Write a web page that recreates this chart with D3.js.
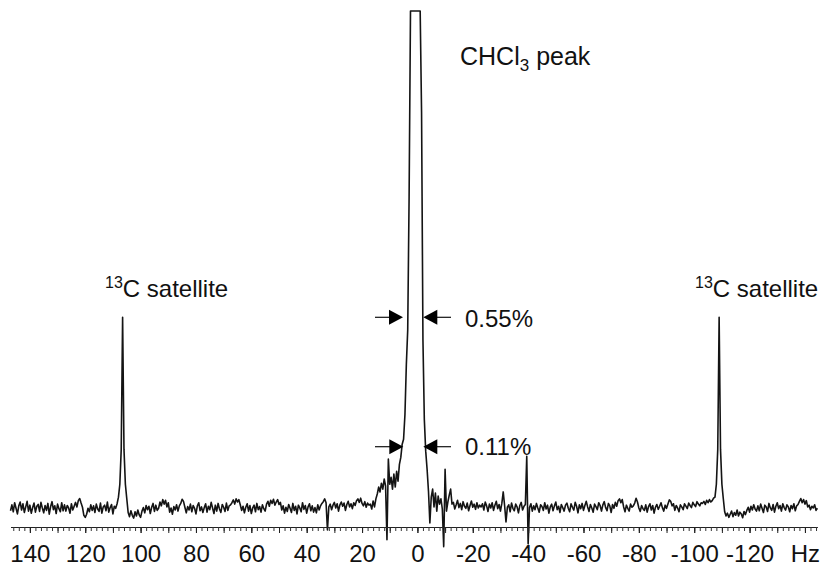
<!DOCTYPE html>
<html><head><meta charset="utf-8">
<script src="https://cdn.jsdelivr.net/npm/d3@7"></script>
<style>
html,body{margin:0;padding:0;background:#fff;}
svg{display:block;font-family:Arial,"Liberation Sans",Helvetica,sans-serif;}
</style></head>
<body>
<svg id="chart" width="822" height="567"></svg>
<script>
// Spectrum sampled every 0.5 Hz from 147 Hz down to -144.5 Hz.
// Intensity in thousandths of a percent of the CHCl3 peak height (550 = 0.55 %).
const hzStart = 147;
const hzStep = 0.5;
const intensity = [
  -5, 12, -8, 18, 2, -14, 9, 20, -3, 15, -10, 6, 22, -6, 11, -12, 4, 17, -9, 8,
  13, -7, 19, 3, -11, 10, -4, 16, -15, 7, 21, -2, 9, -13, 14, 1, -8, 18, -5, 12,
  -6, 10, 3, -12, 15, -3, 8, 19, 6, 24, 30, 17, 5, -18, -24, -15, 2, -8, 12, -4,
  9, -10, 14, 0, -7, 17, -12, 6, 11, -5, 20, -9, 4, 13, -14, 8, 2, 15, 34, 71,
  171, 550, 171, 71, 30, -10, -22, -5, -18, -26, -8, -20, -3, -17, -24, -6, 4, -11, 10, -2,
  8, -13, 5, 16, -7, 11, -4, 2, 20, 9, 27, 14, 25, 6, 18, -9, 3, -15, 7, -3,
  12, -6, 9, 16, 28, 22, 5, -11, 7, -3, 14, -8, 10, 2, -14, 9, 18, -5, 6, -10,
  4, 15, -9, 8, -2, 19, 3, -13, 11, -6, 16, 0, -10, 13, 5, -7, 17, -4, 9, 12,
  18, 26, 14, 29, 20, 27, 12, -4, 8, -11, 5, 15, -6, 10, -13, 3, 11, -8, 16, -2,
  7, -9, 12, 1, -6, 14, 22, 8, 25, 16, 28, 11, 20, 27, 13, 19, -3, 9, -12, 5,
  -7, 13, 2, -10, 16, -4, 8, -14, 11, 3, -8, 18, -1, 10, -12, 6, 15, -5, 9, -9,
  4, -11, 12, -3, 9, 16, 21, 29, 18, -60, 6, 14, -2, 11, 19, 3, 15, -6, 12, 20,
  8, 17, -4, 13, 22, 6, 15, 1, 18, 10, 24, 29, 19, 31, 16, 9, 21, 5, 17, 11,
  14, 0, 23, 6, 29, 43, 63, 49, 74, 57, 86, 66, -88, 143, 71, 91, 57, 100, 63, 108,
  80, 128, 148, 186, 200, 271, 414, 514, 896, 3000, 20000, 60000, 95000, 100000, 90000, 50000, 15000, 1139, 485, 257,
  166, 114, 51, -40, 34, 57, 6, 46, -6, 37, 14, 29, 0, -108, 114, -6, 20, 40, 57, 14,
  19, 0, 12, 25, 4, 16, -2, 21, 8, 2, 17, -5, 10, 23, 5, 14, -1, 18, 3, 11,
  6, 15, -3, 20, 9, -7, 14, 3, 18, -4, 11, 22, 1, 13, -6, 16, 49, 10, -37, 5,
  12, -8, 17, 2, -5, 14, 6, -11, 10, 19, -3, 8, 13, 151, -100, 4, 15, -6, 9, -2,
  16, 3, -9, 12, 7, -4, 18, 0, 11, -12, 6, 14, -5, 9, 20, -2, 8, -10, 13, 4,
  -6, 11, 17, 2, -8, 15, 5, -3, 19, 8, -11, 12, 1, 16, -4, 10, 22, 6, -7, 13,
  3, -9, 14, 7, -2, 18, 10, -6, 12, 21, 4, -5, 16, 9, -10, 13, 2, 19, 8, 24,
  29, 18, 27, 6, -8, 11, 2, -6, 14, 5, 9, 17, 31, 20, 3, -7, 10, 1, -4, 12,
  -9, 7, 15, -3, 10, -12, 5, 13, -1, 8, 18, 4, -6, 11, 2, 14, 26, 22, 9, 15,
  -4, 10, 3, -8, 12, 6, -2, 15, 8, 1, 17, 10, 4, 19, 12, 7, 21, 14, 9, 18,
  16, 22, 13, 25, 18, 27, 20, 24, 31, 34, 71, 171, 550, 171, 71, 30, -8, -20, -12, -24,
  -15, -6, -22, -10, -18, -3, -20, -9, -14, -25, -7, -16, -4, 5, -9, 8, -3, 12, 0, -6,
  9, -5, 14, 2, -10, 11, 6, -7, 16, 3, -4, 13, -9, 8, 18, 1, 10, -6, 15, 4,
  -3, 12, 6, -8, 10, 1, 15, -5, 9, 13, 22, 30, 18, 27, 14, 24, 6, 11, -2, 8,
  3, 12, -4, 2
];

const majorTicks = [140, 120, 100, 80, 60, 40, 20, 0, -20, -40, -60, -80, -100, -120, -140];
const tickLabels = ["140", "120", "100", "80", "60", "40", "20", "0", "-20", "-40", "-60", "-80", "-100", "-120", "Hz"];

const data = intensity.map((v, i) => ({hz: hzStart - i * hzStep, v}));

const svg = d3.select("#chart");
const axisY = 527;

const x = d3.scaleLinear().domain([147, -144.5]).range([10.5, 817.4]);
// 0 -> baseline, 550 (0.55 %) -> satellite top; peak clipped at the top of the frame
const y0 = d3.scaleLinear().domain([0, 550]).range([509, 317.3]);
const y = d3.scaleLinear()
  .domain([y0.invert(620), y0.invert(11)])
  .range([620, 11])
  .clamp(true);

// spectrum
svg.append("path")
  .datum(data)
  .attr("fill", "none")
  .attr("stroke", "#141414")
  .attr("stroke-width", 1.6)
  .attr("stroke-linejoin", "round")
  .attr("d", d3.line().x(d => x(d.hz)).y(d => y(d.v)));

// axis: minor ticks every 2 Hz, medium every 10 Hz, labels every 20 Hz
const minorVals = d3.range(146, -145, -2);
const medVals = d3.range(140, -145, -10);
svg.append("g").attr("transform", `translate(0,${axisY})`)
  .call(d3.axisBottom(x).tickValues(minorVals).tickSizeInner(4).tickSizeOuter(0).tickFormat(""))
  .call(g => g.select(".domain").attr("stroke", "#222"))
  .call(g => g.selectAll(".tick line").attr("stroke", "#333"));
svg.append("g").attr("transform", `translate(0,${axisY})`)
  .call(d3.axisBottom(x).tickValues(medVals).tickSizeInner(6).tickSizeOuter(0).tickFormat(""))
  .call(g => g.select(".domain").remove())
  .call(g => g.selectAll(".tick line").attr("stroke", "#222"));
const lab = svg.append("g").attr("transform", `translate(0,${axisY})`)
  .call(d3.axisBottom(x).tickValues(majorTicks).tickSizeInner(6).tickSizeOuter(0).tickPadding(12)
    .tickFormat((d, i) => tickLabels[i]));
lab.select(".domain").remove();
lab.selectAll(".tick line").attr("stroke", "#222");
lab.selectAll(".tick text").attr("font-size", 24).attr("fill", "#111")
  .attr("font-family", "Arial, 'Liberation Sans', sans-serif");

// annotations
const fs = 24;
const t1 = svg.append("text").attr("x", 460).attr("y", 65).attr("font-size", 25).attr("fill", "#111");
t1.append("tspan").text("CHCl");
t1.append("tspan").attr("font-size", 17).attr("dy", 6).text("3");
t1.append("tspan").attr("dy", -6).text(" peak");

function satLabel(xp) {
  const t = svg.append("text").attr("x", xp).attr("y", 297).attr("font-size", fs).attr("fill", "#111");
  t.append("tspan").attr("font-size", 16).attr("dy", -9).text("13");
  t.append("tspan").attr("dy", 9).text("C satellite");
}
satLabel(105);
satLabel(695);

svg.append("text").attr("x", 465).attr("y", 327).attr("font-size", fs).attr("fill", "#111").text("0.55%");
svg.append("text").attr("x", 465).attr("y", 455).attr("font-size", fs).attr("fill", "#111").text("0.11%");

function arrow(yy, x0, tip) {
  const dir = tip > x0 ? 1 : -1;
  svg.append("line").attr("x1", x0).attr("x2", tip - dir * 10).attr("y1", yy).attr("y2", yy)
    .attr("stroke", "#111").attr("stroke-width", 1.2);
  svg.append("path")
    .attr("d", `M${tip},${yy} L${tip - dir * 14},${yy - 7.5} L${tip - dir * 14},${yy + 7.5} Z`)
    .attr("fill", "#000");
}
arrow(317.3, 375, 403);
arrow(317.3, 451, 423.3);
arrow(446.7, 375, 403.3);
arrow(446.7, 451, 423.3);
</script>
</body></html>
